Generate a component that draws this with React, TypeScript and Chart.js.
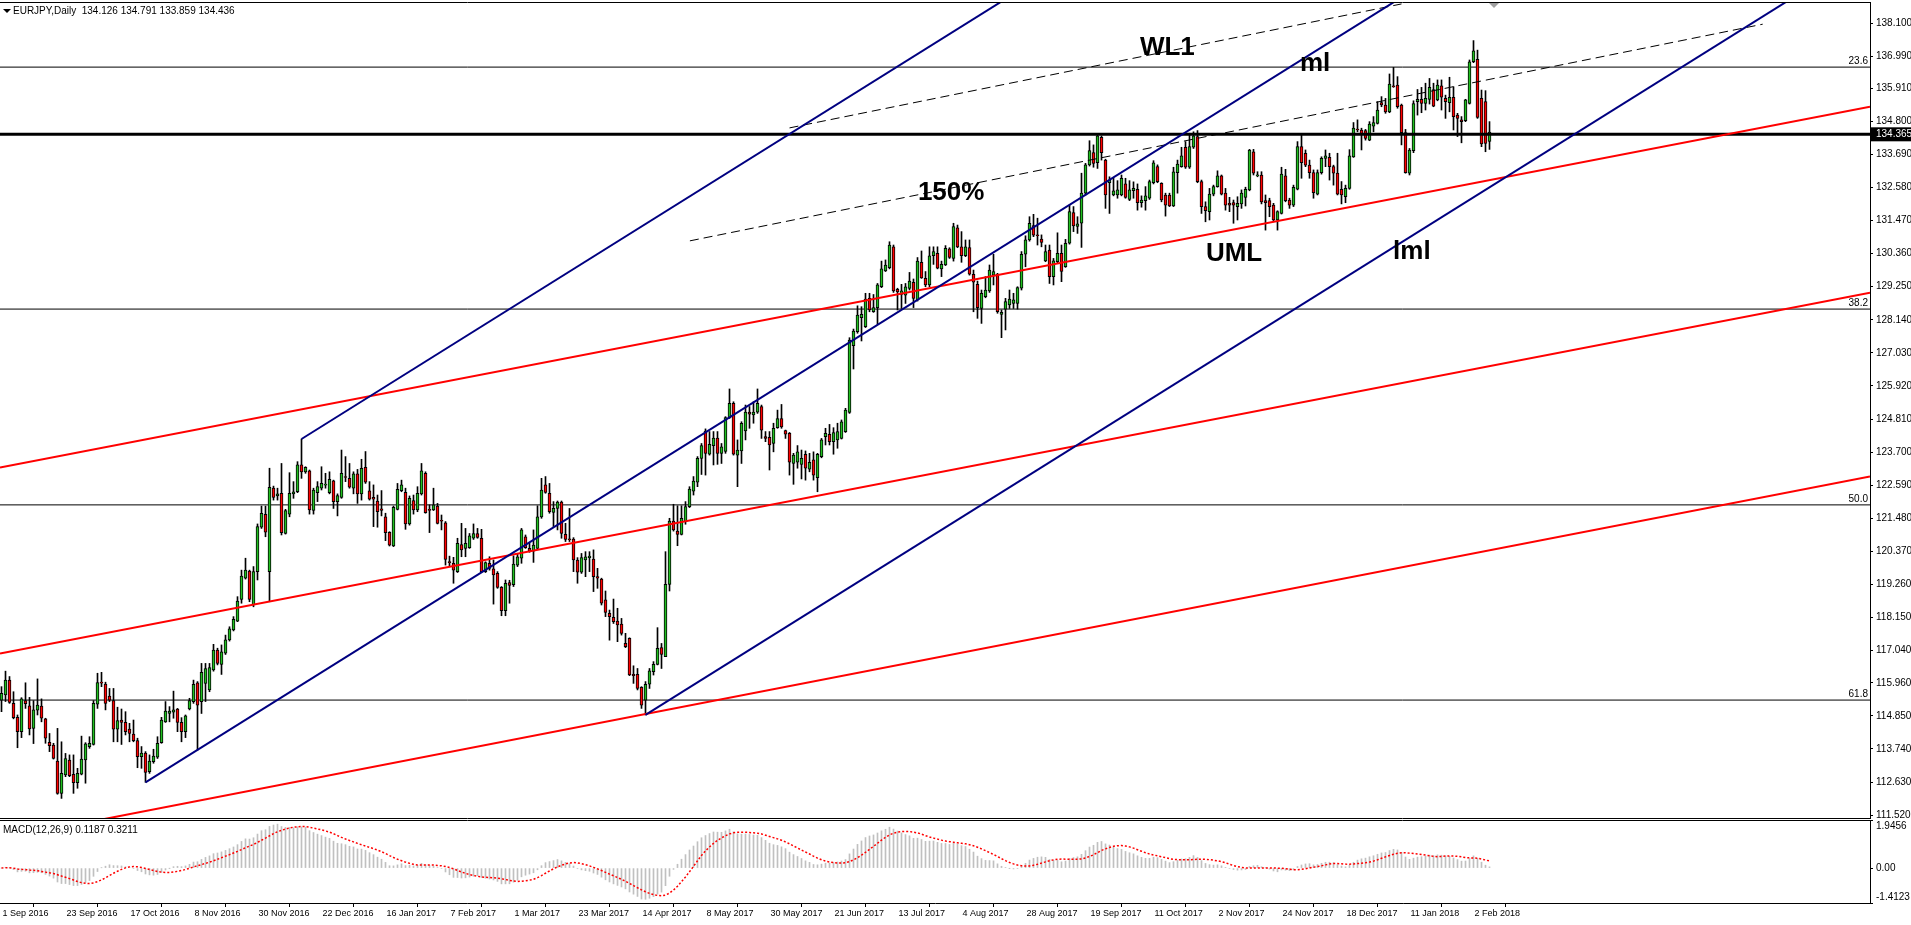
import React, { useEffect, useRef } from 'react';
import { Chart, registerables } from 'chart.js';

Chart.register(...registerables);

const FONT = '"Liberation Sans", Arial, Helvetica, sans-serif';
const BULL = '#20c020';
const BEAR = '#ff0000';
const NAVY = '#000080';
const RED = '#ff0000';

// ---------------- candle data (EURJPY daily) ----------------
const opens = [
  115.38,115.55,116.05,115.27,114.80,114.32,115.36,115.19,114.43,115.04,
  115.18,114.75,113.96,113.87,113.33,112.25,112.87,113.37,112.89,112.61,
  112.89,113.37,113.82,113.89,115.24,115.96,115.92,115.51,115.36,114.40,
  114.71,114.63,114.41,114.24,114.02,113.48,113.60,112.98,113.31,113.46,
  113.95,114.65,114.93,114.97,115.08,114.63,114.32,115.08,115.33,115.96,
  115.33,115.94,115.72,116.39,117.06,116.58,116.95,117.40,117.73,118.03,
  118.76,119.47,119.71,118.57,119.69,121.18,121.61,119.69,122.49,122.23,
  122.32,120.97,121.62,122.30,122.37,123.27,123.04,123.07,121.74,122.34,
  122.49,122.59,122.34,122.74,122.04,122.18,122.88,122.82,122.49,122.97,
  122.30,123.19,122.40,122.18,122.06,121.80,121.53,121.01,120.55,121.78,
  122.41,122.35,121.29,122.07,121.76,122.30,122.99,121.78,121.76,121.89,
  121.40,121.33,120.01,119.97,119.69,120.60,120.47,120.49,120.81,120.97,
  120.81,119.69,119.97,119.78,119.63,119.16,118.38,119.32,119.25,119.91,
  120.14,120.86,120.47,120.38,120.47,121.53,122.60,122.32,121.68,121.81,
  122.02,120.94,120.78,120.78,120.08,119.67,120.08,120.16,120.11,119.52,
  119.44,118.74,118.29,118.16,118.03,117.93,117.28,117.45,116.24,116.24,
  115.81,115.38,115.91,116.33,116.58,117.14,116.84,119.26,121.39,121.05,
  120.94,121.37,121.87,122.39,122.69,123.49,124.41,123.63,123.92,124.17,
  123.66,123.72,124.86,125.34,123.60,123.74,124.41,125.04,124.95,125.04,
  125.23,124.22,124.20,123.99,124.52,124.83,124.42,124.33,123.32,123.36,
  123.29,123.63,123.13,123.44,122.84,123.55,124.22,124.30,124.05,124.11,
  124.16,124.39,125.03,127.27,127.74,128.21,127.91,128.86,128.41,128.55,
  129.25,129.78,129.89,130.59,129.16,128.99,128.97,129.19,129.40,128.81,
  130.07,129.53,129.31,130.29,130.37,129.85,129.98,130.52,130.20,131.23,
  130.59,130.29,130.56,129.67,129.33,128.52,128.92,129.11,129.64,129.67,
  128.32,128.50,128.64,128.69,128.69,129.20,130.34,130.82,131.30,130.97,
  130.85,130.12,130.48,129.59,130.09,130.37,129.92,130.71,131.74,131.27,
  131.38,132.39,133.34,133.75,133.41,134.26,133.50,132.74,132.33,132.33,
  132.33,132.70,132.18,132.47,132.52,132.07,132.14,132.22,132.74,133.28,
  132.72,132.33,132.33,131.96,133.08,133.28,133.93,133.26,133.93,134.29,
  132.78,131.94,131.77,132.36,132.61,132.97,132.39,132.05,132.07,131.94,
  132.03,132.25,132.50,133.78,132.97,133.00,132.14,132.14,131.99,131.49,
  131.71,132.97,132.16,131.99,132.52,133.95,133.73,133.33,133.08,132.36,
  133.08,133.56,133.59,133.28,133.06,132.52,132.27,132.55,133.61,134.53,
  134.51,134.49,134.17,134.64,134.73,135.43,135.35,135.12,135.99,136.02,
  135.35,134.42,133.06,133.82,135.46,135.54,135.40,135.54,135.87,135.52,
  135.99,135.57,135.43,135.61,135.01,134.85,134.82,135.40,136.80,136.88,
  135.57,135.46,134.126
];

const highs = [
  115.83,116.35,116.17,115.66,114.88,115.46,115.96,115.47,115.36,116.09,
  115.42,114.77,114.26,113.93,114.43,113.98,113.59,113.54,113.54,113.09,
  114.17,113.95,114.15,115.36,116.28,116.31,115.98,115.77,115.77,115.14,
  115.08,114.99,114.60,114.71,114.10,113.82,113.65,113.54,113.73,114.15,
  114.80,115.33,115.16,115.68,115.10,114.79,114.88,115.44,116.05,116.00,
  116.61,116.61,116.61,117.25,117.12,117.23,117.56,117.84,118.18,118.85,
  119.74,120.14,119.74,119.86,121.29,121.89,121.89,123.16,122.56,122.49,
  123.32,121.78,123.01,122.71,123.38,124.14,123.21,123.10,122.49,122.71,
  123.21,122.99,123.04,122.76,122.30,123.77,123.55,123.32,123.04,123.12,
  123.46,123.72,122.71,122.60,122.26,122.41,121.65,121.03,121.89,122.65,
  122.76,122.49,122.23,122.26,122.54,123.32,123.04,121.93,122.49,121.98,
  121.59,121.37,120.21,120.17,120.81,121.31,121.14,120.97,121.29,121.14,
  121.11,120.02,120.19,120.08,119.69,119.19,119.41,119.40,120.22,120.30,
  121.14,120.92,120.64,121.09,121.90,122.82,122.88,122.65,122.04,122.06,
  122.06,121.31,121.81,120.83,120.16,120.30,120.36,120.36,120.42,119.80,
  119.47,119.04,118.40,118.77,118.46,118.12,117.62,117.47,116.53,116.44,
  115.83,116.00,116.44,116.67,117.81,117.28,120.36,121.48,121.95,121.90,
  121.90,122.04,122.54,122.88,123.55,123.99,124.48,124.39,124.39,124.39,
  123.99,124.89,125.82,125.39,124.11,124.72,125.28,125.23,125.39,125.82,
  125.28,124.39,124.39,124.67,125.11,125.30,124.44,124.36,123.66,123.92,
  123.77,123.74,123.66,123.71,123.66,124.16,124.50,124.63,124.52,124.67,
  124.78,125.17,127.54,127.83,128.61,128.58,129.03,129.03,128.99,129.36,
  130.11,130.15,130.76,130.65,129.20,129.33,129.36,129.73,129.51,130.23,
  130.45,129.76,130.59,130.59,130.59,130.11,130.63,130.56,131.38,131.32,
  131.10,130.82,130.82,129.81,129.44,129.14,129.59,129.98,130.34,129.70,
  128.47,128.86,129.14,129.03,129.25,130.43,130.96,131.60,131.68,131.55,
  130.99,130.65,130.65,130.20,131.06,130.65,130.84,131.99,131.94,131.60,
  133.06,133.39,134.15,134.01,134.34,134.31,133.53,132.94,132.89,132.81,
  133.00,132.89,132.81,132.77,132.70,132.30,132.61,132.83,133.48,133.34,
  132.74,132.39,132.39,133.26,133.50,133.93,134.12,134.40,134.45,134.49,
  132.83,132.10,132.55,132.66,133.14,133.00,132.55,132.25,132.16,132.27,
  132.50,132.59,133.86,133.86,133.11,133.11,132.33,132.22,132.05,131.80,
  133.26,133.19,132.22,132.66,134.12,134.34,133.84,133.50,133.17,133.17,
  133.61,133.84,133.73,133.33,133.73,132.78,132.66,133.85,134.76,134.85,
  134.57,134.53,134.79,134.96,135.46,135.63,135.57,136.39,136.61,136.30,
  135.38,134.53,133.89,135.49,135.87,135.94,136.08,136.24,136.08,136.19,
  136.19,135.68,136.28,135.96,135.07,134.96,135.54,136.86,137.51,137.19,
  135.85,135.83,134.791
];

const lows = [
  114.99,115.33,115.27,114.75,113.78,114.12,115.10,114.21,113.92,114.88,
  114.65,113.93,113.65,113.40,112.22,112.08,112.81,112.81,112.25,112.42,
  112.87,112.59,113.76,113.87,115.10,115.83,115.05,115.33,113.98,113.98,
  113.89,114.21,113.98,113.98,113.11,113.09,112.62,112.92,113.26,113.42,
  113.93,114.63,114.65,114.77,114.32,113.98,114.12,115.05,115.27,113.70,
  114.93,115.33,115.66,116.35,116.56,116.24,116.91,117.36,117.70,118.01,
  118.63,119.44,118.68,118.51,119.41,121.14,120.86,118.68,122.09,122.09,
  120.92,120.95,121.53,122.15,122.34,122.82,122.99,121.62,121.62,122.04,
  122.43,122.49,122.30,121.81,121.56,122.15,122.71,122.49,122.30,121.98,
  122.09,122.65,122.09,121.20,121.18,121.56,120.73,120.55,120.53,121.76,
  122.37,121.11,121.25,121.62,121.70,122.26,121.65,121.00,121.74,121.29,
  121.09,119.91,119.86,119.30,119.66,120.19,120.19,120.47,120.77,120.81,
  119.66,119.66,119.74,118.60,119.13,118.21,118.21,118.63,119.19,119.86,
  119.97,120.47,120.34,120.00,120.45,121.48,122.32,121.65,121.20,121.09,
  120.81,120.70,120.70,119.69,119.30,119.63,119.52,119.69,119.02,119.13,
  118.57,118.18,117.39,117.95,117.34,117.56,117.14,116.20,115.94,115.72,
  115.10,114.88,115.77,116.22,116.56,116.44,116.84,119.04,121.05,120.56,
  120.92,121.28,121.84,122.26,122.54,122.95,122.93,123.60,123.27,123.29,
  123.32,123.66,124.83,123.60,122.54,123.32,124.11,124.50,124.67,125.00,
  124.16,124.05,123.10,123.71,124.50,124.50,124.16,122.93,122.62,123.16,
  122.80,122.76,123.04,122.76,122.37,123.51,123.94,123.94,123.63,123.83,
  124.14,124.36,125.00,126.49,127.69,127.43,127.88,128.41,128.39,127.99,
  129.22,129.76,129.85,129.06,128.47,128.52,128.69,129.14,128.55,128.77,
  129.53,129.25,129.25,130.00,129.85,129.59,129.96,130.20,130.11,130.56,
  130.07,130.26,129.64,128.41,128.19,128.02,128.88,129.06,129.31,128.36,
  127.54,127.80,128.52,128.52,128.50,129.14,129.92,130.78,130.93,130.65,
  130.59,130.09,129.36,129.31,130.04,129.42,129.90,130.68,131.10,131.04,
  130.57,132.33,133.30,133.26,133.22,133.50,131.88,131.71,132.30,132.22,
  132.30,132.22,132.14,132.22,131.82,131.92,131.82,132.18,132.70,132.74,
  132.10,131.62,131.94,131.94,132.39,133.26,133.22,133.22,133.89,132.74,
  131.71,131.43,131.49,132.30,132.59,132.33,131.82,131.77,131.38,131.49,
  131.88,131.96,132.47,133.00,132.94,132.03,131.15,131.60,131.43,131.15,
  131.69,132.10,131.88,131.94,132.50,132.89,133.28,132.89,132.22,132.33,
  133.03,133.28,132.83,132.66,132.33,132.03,132.07,132.52,133.59,134.45,
  133.84,134.17,134.15,134.45,134.71,135.29,135.07,135.09,135.94,135.24,
  134.01,133.06,133.00,133.75,135.01,135.09,135.18,135.38,135.29,135.49,
  135.18,134.90,135.12,134.51,134.29,134.08,134.79,135.38,136.77,134.90,
  133.95,133.78,133.859
];

const closes = [
  115.61,116.05,115.30,114.79,114.32,115.42,115.26,114.41,115.05,115.21,
  114.77,114.10,113.85,113.42,112.25,112.92,113.42,112.84,112.61,112.92,
  113.40,113.91,113.93,115.27,115.97,115.95,115.27,115.38,114.40,114.69,
  114.63,114.32,114.26,114.02,113.48,113.60,112.95,113.33,113.50,113.93,
  114.71,115.01,115.01,115.05,114.63,114.32,114.85,115.36,115.91,115.21,
  116.31,116.44,116.47,117.06,116.61,117.00,117.40,117.77,118.09,118.70,
  119.54,119.74,118.76,119.69,121.20,121.65,121.01,122.52,122.18,122.30,
  121.00,121.74,122.32,122.37,123.27,123.04,123.19,121.76,122.43,122.54,
  122.65,122.63,122.79,122.04,122.24,122.99,122.85,122.52,122.97,122.30,
  123.16,122.69,122.12,122.12,121.70,121.74,121.00,120.58,121.85,122.45,
  122.60,121.29,122.15,121.76,122.32,123.07,121.67,121.74,121.93,121.31,
  121.38,120.10,119.99,119.74,120.64,120.42,120.64,120.89,120.97,120.84,
  119.69,119.99,119.80,119.58,119.16,118.38,119.30,119.23,119.94,120.19,
  121.09,120.49,120.38,120.58,121.53,122.43,122.35,121.70,121.81,122.02,
  120.97,120.77,120.76,120.08,119.67,120.16,120.19,120.21,119.52,119.47,
  118.63,118.32,118.18,118.01,117.90,117.62,117.17,116.22,116.20,115.77,
  115.21,115.91,116.36,116.58,117.12,116.91,119.26,121.39,121.09,120.94,
  121.48,121.87,122.46,122.73,123.49,123.92,123.66,123.96,124.17,123.66,
  123.88,124.86,125.34,123.63,123.77,124.67,125.04,124.97,125.04,125.34,
  124.44,124.16,123.94,124.50,124.83,124.55,124.30,123.36,123.60,123.71,
  123.49,123.16,123.36,122.93,123.63,124.11,124.33,124.05,124.36,124.39,
  124.72,125.11,127.46,127.76,128.30,128.32,128.84,128.47,128.55,129.31,
  129.85,129.98,130.65,129.11,129.08,129.11,129.25,129.44,128.86,130.11,
  129.55,129.31,130.29,130.43,129.87,130.00,130.54,130.23,131.27,130.59,
  130.29,130.59,129.67,129.40,128.55,129.03,129.14,129.81,129.76,128.41,
  128.39,128.75,128.84,128.81,129.22,130.34,130.82,131.38,130.98,130.96,
  130.74,130.43,129.59,130.12,130.37,129.76,130.71,131.77,131.29,131.36,
  132.39,133.34,133.82,133.39,134.31,133.75,132.33,132.83,132.47,132.50,
  132.89,132.25,132.50,132.55,132.07,132.16,132.30,132.78,133.41,132.78,
  132.16,131.99,131.96,133.11,133.37,133.64,133.26,133.95,134.31,132.78,
  131.94,131.80,132.36,132.61,132.97,132.36,131.99,131.99,131.99,132.05,
  132.39,132.52,133.84,133.06,133.00,132.10,132.07,131.94,131.49,131.77,
  133.03,132.14,131.99,132.59,133.95,133.41,133.33,133.08,132.41,133.08,
  133.56,133.64,133.28,133.06,132.36,132.33,132.55,133.64,134.57,134.51,
  134.37,134.23,134.71,134.76,135.18,135.35,135.12,136.05,135.96,135.29,
  134.42,133.08,133.84,135.40,135.54,135.40,135.57,135.94,135.31,136.02,
  135.61,135.46,135.61,134.96,134.90,134.79,135.52,136.80,137.17,134.93,
  134.04,134.06,134.436
];

// one date label every 16 bars
const dateLabels = [
  '1 Sep 2016', '23 Sep 2016', '17 Oct 2016', '8 Nov 2016', '30 Nov 2016', '22 Dec 2016',
  '16 Jan 2017', '7 Feb 2017', '1 Mar 2017', '23 Mar 2017', '14 Apr 2017', '8 May 2017',
  '30 May 2017', '21 Jun 2017', '13 Jul 2017', '4 Aug 2017', '28 Aug 2017', '19 Sep 2017',
  '11 Oct 2017', '2 Nov 2017', '24 Nov 2017', '18 Dec 2017', '11 Jan 2018', '2 Feb 2018'
];
const barsPerLabel = 16;

const priceTickValues = [
  138.100, 136.990, 135.910, 134.800, 133.690, 132.580, 131.470, 130.360, 129.250,
  128.140, 127.030, 125.920, 124.810, 123.700, 122.590, 121.480, 120.370, 119.260,
  118.150, 117.040, 115.960, 114.850, 113.740, 112.630, 111.520
];
const bidPrice = 134.365;

const fibNames = ['23.6', '38.2', '50.0', '61.8'];
const fibPrices = [136.62, 128.50, 121.93, 115.38];

// trend lines: [startBar, startPrice, endBar, endPrice]
const redLines = [
  [-0.375, 123.18, 467.125, 135.29],
  [-0.375, 116.94, 467.125, 129.05],
  [-0.375, 110.71, 467.125, 122.88]
];
const blueLines = [
  [75, 124.14, 260, 139.66],
  [36, 112.62, 360, 139.80],
  [161, 114.88, 460, 139.97]
];
const dashedLines = [
  [172.1, 130.79, 440.3, 138.06],
  [197, 134.58, 350, 138.74]
];

const noteTexts = ['WL1', 'ml', '150%', 'UML', 'lml'];
const noteBars = [284.6, 324.6, 229.1, 301.1, 347.9];
const notePrices = [137.03, 136.49, 132.16, 130.12, 130.17];

const macdTickValues = [1.9456, 0, -1.4123];
const macdTickLabels = ['1.9456', '0.00', '-1.4123'];

// ---------------- view ranges ----------------
const X_MIN = -0.375;
const X_MAX = 467.125;
const PRICE_MIN = 111.389;
const PRICE_MAX = 138.805;
const MACD_MIN = -1.4123;
const MACD_MAX = 1.9456;

// MACD(12,26,9) derived from the closes
function ema(src: number[], n: number): number[] {
  const k = 2 / (n + 1);
  const out: number[] = [];
  src.forEach((v, i) => out.push(i === 0 ? v : v * k + out[i - 1] * (1 - k)));
  return out;
}
const ema12 = ema(closes, 12);
const ema26 = ema(closes, 26);
const macdMain = closes.map((_, i) => ema12[i] - ema26[i]);
const macdSignal = macdMain.map((_, i) => {
  const s = macdMain.slice(Math.max(0, i - 8), i + 1);
  return s.reduce((a, b) => a + b, 0) / s.length;
});

const seg = (a: number[], color: string, width: number, dash: number[] = [], order = 0, clip: any = 0) => ({
  type: 'line' as const,
  data: [{ x: a[0], y: a[1] }, { x: a[2], y: a[3] }],
  borderColor: color,
  borderWidth: width,
  borderDash: dash,
  pointRadius: 0,
  fill: false,
  tension: 0,
  order,
  clip,
});

const mainOverlay = {
  id: 'mainOverlay',
  afterDatasetsDraw(chart: any) {
    const { ctx, chartArea, scales } = chart;
    const xs = scales.x;
    const ys = scales.y;
    ctx.save();
    ctx.fillStyle = '#000';
    ctx.font = `10px ${FONT}`;
    ctx.textAlign = 'right';
    ctx.textBaseline = 'bottom';
    fibPrices.forEach((v, k) => {
      ctx.fillText(fibNames[k], chartArea.right - 2, ys.getPixelForValue(v) - 1);
    });
    ctx.font = `bold 26px ${FONT}`;
    ctx.textAlign = 'left';
    ctx.textBaseline = 'alphabetic';
    noteTexts.forEach((t, k) => {
      ctx.fillText(t, xs.getPixelForValue(noteBars[k]), ys.getPixelForValue(notePrices[k]));
    });
    ctx.strokeStyle = '#000';
    ctx.lineWidth = 1;
    ctx.beginPath();
    ctx.moveTo(chartArea.left, Math.round(chartArea.top) + 0.5);
    ctx.lineTo(chartArea.right, Math.round(chartArea.top) + 0.5);
    ctx.moveTo(chartArea.left, Math.round(chartArea.bottom) - 0.5);
    ctx.lineTo(chartArea.right, Math.round(chartArea.bottom) - 0.5);
    ctx.stroke();
    ctx.restore();
  },
};

const macdOverlay = {
  id: 'macdOverlay',
  afterDatasetsDraw(chart: any) {
    const { ctx, chartArea } = chart;
    ctx.save();
    ctx.strokeStyle = '#000';
    ctx.lineWidth = 1;
    ctx.beginPath();
    ctx.moveTo(chartArea.left, Math.round(chartArea.top) + 0.5);
    ctx.lineTo(chartArea.right, Math.round(chartArea.top) + 0.5);
    ctx.stroke();
    ctx.restore();
  },
};

export default function App() {
  const mainRef = useRef<HTMLCanvasElement | null>(null);
  const macdRef = useRef<HTMLCanvasElement | null>(null);

  useEffect(() => {
    if (!mainRef.current || !macdRef.current) return;

    const bodyData = closes.map((c, i) => ({ x: i, y: [opens[i], c] }));
    const wickData = closes.map((_, i) => ({ x: i, y: [lows[i], highs[i]] }));
    const bodyColors = closes.map((c, i) => (c >= opens[i] ? BULL : BEAR));

    const datasets: any[] = [
      ...blueLines.map((l) => seg(l, NAVY, 2, [], 0, 0)),
      ...redLines.map((l) => seg(l, RED, 2, [], 0, 0)),
      ...dashedLines.map((l) => seg(l, '#000', 1, [9, 5], 0, 0)),
      {
        type: 'bar',
        data: bodyData,
        backgroundColor: bodyColors,
        borderColor: '#000',
        borderWidth: 1,
        borderSkipped: false,
        barThickness: 3,
        minBarLength: 1,
        grouped: false,
        order: 2,
      },
      {
        type: 'bar',
        data: wickData,
        backgroundColor: '#000',
        borderWidth: 0,
        barThickness: 1,
        grouped: false,
        order: 3,
      },
      ...fibPrices.map((p) => seg([X_MIN, p, X_MAX, p], '#000', 1, [], 4, 0)),
      seg([X_MIN, bidPrice, X_MAX, bidPrice], '#000', 3, [], 1, 0),
    ];

    const mainChart = new Chart(mainRef.current, {
      type: 'bar',
      data: { datasets },
      options: {
        animation: false,
        responsive: false,
        events: [],
        layout: { padding: { top: 2, left: 0, right: 0, bottom: 0 } },
        plugins: { legend: { display: false }, tooltip: { enabled: false } },
        scales: {
          x: { type: 'linear', min: X_MIN, max: X_MAX, offset: false, display: false },
          y: {
            type: 'linear',
            position: 'right',
            min: PRICE_MIN,
            max: PRICE_MAX,
            afterBuildTicks: (s: any) => {
              s.ticks = [...priceTickValues, bidPrice].map((v) => ({ value: v }));
            },
            afterFit: (s: any) => {
              s.width = 41;
              s.paddingTop = 0;
              s.paddingBottom = 0;
            },
            ticks: {
              autoSkip: false,
              padding: 3,
              font: { family: FONT, size: 10 },
              color: (c: any) => (c.tick && c.tick.value === bidPrice ? '#fff' : '#000'),
              showLabelBackdrop: (c: any) => !!(c.tick && c.tick.value === bidPrice),
              backdropColor: '#000',
              backdropPadding: { top: 1, bottom: 1, left: 5, right: 6 },
              callback: (v: any) => Number(v).toFixed(3),
            },
            grid: { display: true, drawOnChartArea: false, drawTicks: true, tickLength: 3, tickColor: '#000', color: '#000' },
            border: { display: true, color: '#000', width: 1 },
          },
        },
      } as any,
      plugins: [mainOverlay],
    });

    const macdChart = new Chart(macdRef.current, {
      type: 'bar',
      data: {
        datasets: [
          {
            type: 'line',
            data: macdSignal.map((v, i) => ({ x: i, y: v })),
            borderColor: RED,
            borderWidth: 1.5,
            borderDash: [2, 2],
            pointRadius: 0,
            fill: false,
            tension: 0,
            order: 0,
          } as any,
          {
            type: 'bar',
            data: macdMain.map((v, i) => ({ x: i, y: v })),
            backgroundColor: '#c0c0c0',
            borderWidth: 0,
            barThickness: 1,
            grouped: false,
            order: 1,
          } as any,
        ],
      },
      options: {
        animation: false,
        responsive: false,
        events: [],
        layout: { padding: { top: 1, left: 0, right: 0, bottom: 0 } },
        plugins: { legend: { display: false }, tooltip: { enabled: false } },
        scales: {
          x: {
            type: 'linear',
            min: X_MIN,
            max: X_MAX,
            offset: false,
            position: 'bottom',
            afterBuildTicks: (s: any) => {
              s.ticks = dateLabels.map((_, k) => ({ value: k * barsPerLabel }));
            },
            afterFit: (s: any) => {
              s.height = 22;
              s.paddingLeft = 0;
              s.paddingRight = 0;
            },
            ticks: {
              autoSkip: false,
              maxRotation: 0,
              minRotation: 0,
              align: 'start',
              padding: 1,
              labelOffset: 1,
              font: { family: FONT, size: 9 },
              color: '#000',
              callback: (v: any) => dateLabels[Math.round(Number(v) / barsPerLabel)] ?? '',
            },
            grid: { display: true, drawOnChartArea: false, drawTicks: true, tickLength: 4, tickColor: '#000', color: '#000' },
            border: { display: true, color: '#000', width: 1 },
          },
          y: {
            type: 'linear',
            position: 'right',
            min: MACD_MIN,
            max: MACD_MAX,
            afterBuildTicks: (s: any) => {
              s.ticks = macdTickValues.map((v) => ({ value: v }));
            },
            afterFit: (s: any) => {
              s.width = 41;
              s.paddingTop = 0;
              s.paddingBottom = 0;
            },
            ticks: {
              autoSkip: false,
              padding: 3,
              font: { family: FONT, size: 10 },
              color: '#000',
              callback: (v: any) => {
                const k = macdTickValues.indexOf(Number(v));
                if (k === 0) return ['', macdTickLabels[0]];
                if (k === macdTickValues.length - 1) return [macdTickLabels[k], ''];
                return k >= 0 ? macdTickLabels[k] : '';
              },
            },
            grid: { display: true, drawOnChartArea: false, drawTicks: true, tickLength: 3, tickColor: '#000', color: '#000' },
            border: { display: true, color: '#000', width: 1 },
          },
        },
      } as any,
      plugins: [macdOverlay],
    });

    return () => {
      mainChart.destroy();
      macdChart.destroy();
    };
  }, []);

  return (
    <div
      style={{
        position: 'fixed',
        left: 0,
        top: 0,
        width: 1911,
        height: 925,
        background: '#fff',
        overflow: 'hidden',
        fontFamily: FONT,
        color: '#000',
      }}
    >
      <canvas ref={mainRef} width={1911} height={819} style={{ position: 'absolute', left: 0, top: 0, width: 1911, height: 819 }} />
      <canvas ref={macdRef} width={1911} height={106} style={{ position: 'absolute', left: 0, top: 819, width: 1911, height: 106 }} />
      <div
        style={{
          position: 'absolute', left: 3, top: 9, width: 0, height: 0,
          borderLeft: '4px solid transparent', borderRight: '4px solid transparent', borderTop: '4px solid #000',
        }}
      />
      <div style={{ position: 'absolute', left: 13, top: 5, fontSize: 10, lineHeight: '12px', whiteSpace: 'pre' }}>
        {'EURJPY,Daily  134.126 134.791 133.859 134.436'}
      </div>
      <div style={{ position: 'absolute', left: 3, top: 824, fontSize: 10, lineHeight: '12px', whiteSpace: 'pre' }}>
        {'MACD(12,26,9) 0.1187 0.3211'}
      </div>
      <div
        style={{
          position: 'absolute', left: 1489, top: 3, width: 0, height: 0,
          borderLeft: '5px solid transparent', borderRight: '5px solid transparent', borderTop: '5px solid #a0a0a0',
        }}
      />
    </div>
  );
}
